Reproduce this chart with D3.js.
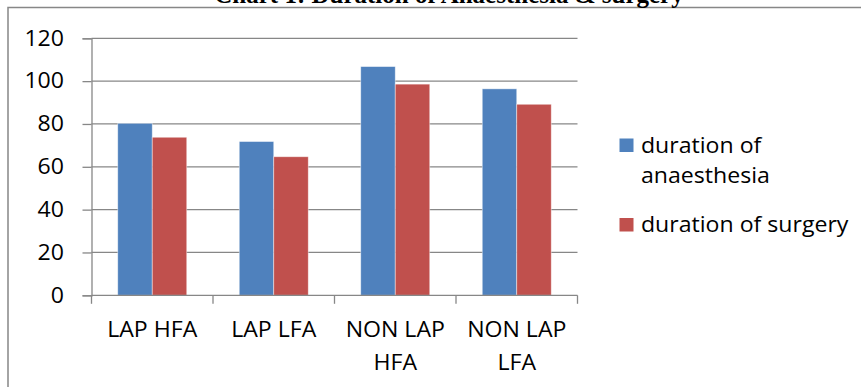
<!DOCTYPE html>
<html>
<head>
<meta charset="utf-8">
<script src="https://cdn.jsdelivr.net/npm/d3@7"></script>
<style>
  html, body { margin: 0; padding: 0; background: #fff; }
  svg { display: block; }
  .lbl { font-family: "Open Sans", Lato, sans-serif; fill: #000; }
</style>
</head>
<body>
<svg id="chart" width="861" height="387"></svg>
<script>
// Chart data
const title = "Chart 1: Duration of Anaesthesia & surgery";
const categories = ["LAP HFA", "LAP LFA", "NON LAP HFA", "NON LAP LFA"];
const seriesNames = ["duration of anaesthesia", "duration of surgery"];
const anaesthesia = [80.3, 71.8, 106.8, 96.4];
const surgery = [73.8, 64.7, 98.6, 89.2];
const yTicks = [0, 20, 40, 60, 80, 100, 120];
const colors = ["#4F81BD", "#C0504D"];

const svg = d3.select("#chart");
const gridColor = "#878787";
const fontSize = 21;
const stretch = 1.1;   // labels are set slightly wide

// Plot area
const plot = { left: 91.5, right: 577.5, top: 38.3, bottom: 295.3 };

// Outer chart frame (extends past the bottom-right edge)
svg.append("rect")
  .attr("x", 8).attr("y", 7.5)
  .attr("width", 900).attr("height", 420)
  .attr("fill", "none").attr("stroke", gridColor).attr("stroke-width", 1.5);

// Title, sitting partly above the visible area
svg.append("text")
  .attr("x", 449).attr("y", 3)
  .attr("text-anchor", "middle")
  .style("font-family", '"Liberation Serif", "Times New Roman", serif')
  .style("font-weight", "bold")
  .style("font-size", "25px")
  .text(title);

const x0 = d3.scaleBand().domain(categories).range([plot.left, plot.right])
  .paddingInner(0.432).paddingOuter(0.216);
const x1 = d3.scaleBand().domain(seriesNames).range([0, x0.bandwidth()]);
const y = d3.scaleLinear().domain([0, 120]).range([plot.bottom, plot.top]);

// Horizontal gridlines
svg.append("g").selectAll("line").data(yTicks.filter(d => d > 0)).join("line")
  .attr("x1", plot.left).attr("x2", plot.right)
  .attr("y1", d => y(d)).attr("y2", d => y(d))
  .attr("stroke", gridColor).attr("stroke-width", 1.3);

// Y axis
const yAxis = svg.append("g").attr("transform", `translate(${plot.left},0)`)
  .call(d3.axisLeft(y).tickValues(yTicks).tickSize(9).tickPadding(18));
yAxis.select(".domain").attr("stroke", gridColor).attr("stroke-width", 1.3);
yAxis.selectAll(".tick line").attr("stroke", gridColor).attr("stroke-width", 1.3);
yAxis.selectAll(".tick text").attr("class", "lbl")
  .style("font-size", fontSize + "px").attr("fill", "#000")
  .attr("x", -27.5 / stretch)
  .attr("transform", `scale(${stretch},1)`);

// Bars
const rows = categories.map((c, i) => ({ cat: c, vals: [anaesthesia[i], surgery[i]] }));
const groups = svg.append("g").selectAll("g").data(rows).join("g")
  .attr("transform", d => `translate(${x0(d.cat)},0)`);
groups.selectAll("rect")
  .data(d => d.vals.map((v, k) => ({ name: seriesNames[k], v, k })))
  .join("rect")
  .attr("x", d => x1(d.name))
  .attr("width", x1.bandwidth())
  .attr("y", d => y(d.v))
  .attr("height", d => y(0) - y(d.v))
  .attr("fill", d => colors[d.k])
  .attr("stroke", "rgba(255,255,255,0.55)")
  .attr("stroke-width", 0.8);

// X axis with ticks on category boundaries
const xAxisG = svg.append("g");
xAxisG.append("line")
  .attr("x1", plot.left).attr("x2", plot.right).attr("y1", plot.bottom).attr("y2", plot.bottom)
  .attr("stroke", gridColor).attr("stroke-width", 1.3);
const bounds = d3.range(categories.length + 1).map(i => plot.left + i * x0.step());
xAxisG.selectAll("line.tk").data(bounds).join("line").attr("class", "tk")
  .attr("x1", d => d).attr("x2", d => d)
  .attr("y1", plot.bottom).attr("y2", plot.bottom + 8.5)
  .attr("stroke", gridColor).attr("stroke-width", 1.3);

// Category labels, wrapped to fit the band
const maxW = (x0.step() - 12) / stretch;
categories.forEach(c => {
  const cx = x0(c) + x0.bandwidth() / 2;
  const t = svg.append("g").attr("transform", `translate(${cx},0) scale(${stretch},1)`)
    .append("text").attr("class", "lbl")
    .attr("text-anchor", "middle").style("font-size", fontSize + "px");
  const words = c.split(" ");
  let lines = [], cur = [];
  const probe = t.append("tspan");
  words.forEach(w => {
    const test = cur.concat(w).join(" ");
    probe.text(test);
    if (probe.node().getComputedTextLength() > maxW && cur.length) {
      lines.push(cur.join(" ")); cur = [w];
    } else cur.push(w);
  });
  lines.push(cur.join(" "));
  probe.remove();
  lines.forEach((ln, i) => {
    t.append("tspan").attr("x", 0).attr("y", 337 + i * 33).text(ln);
  });
});

// Legend
const legendItems = [
  { lines: ["duration of", "anaesthesia"], color: colors[0], y: 138.5 },
  { lines: ["duration of surgery"], color: colors[1], y: 218 }
];
const lg = svg.append("g");
legendItems.forEach(it => {
  lg.append("rect").attr("x", 619.5).attr("y", it.y).attr("width", 14).attr("height", 13.5)
    .attr("fill", it.color);
  const t = lg.append("g").attr("transform", `translate(641,0) scale(${stretch},1)`)
    .append("text").attr("class", "lbl").style("font-size", fontSize + "px");
  it.lines.forEach((ln, i) => {
    t.append("tspan").attr("x", 0).attr("y", it.y + 14.5 + i * 30).text(ln);
  });
});
</script>
</body>
</html>
